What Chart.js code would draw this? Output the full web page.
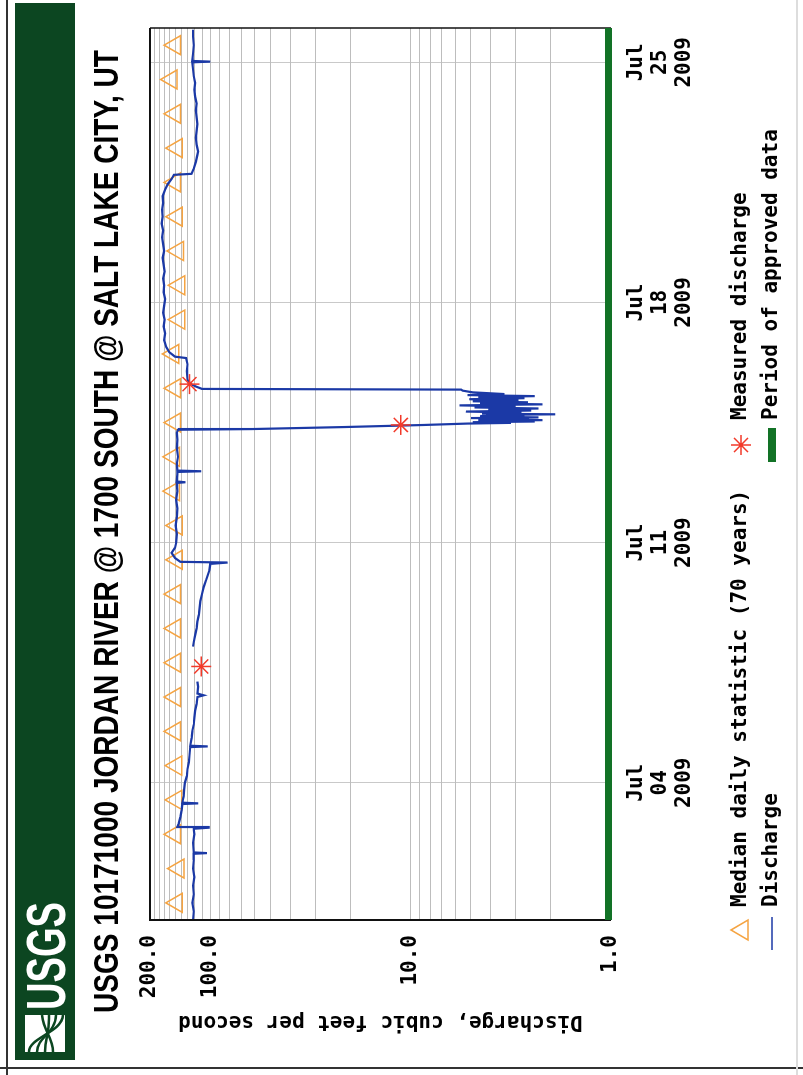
<!DOCTYPE html>
<html>
<head>
<meta charset="utf-8">
<script src="https://cdn.jsdelivr.net/npm/chart.js@4.4.0/dist/chart.umd.min.js"></script>
<style>
html, body { margin: 0; padding: 0; background: #fff; overflow: hidden; }
#wrap { position: absolute; left: -136px; top: 136px; width: 1075px; height: 803px; transform: rotate(-90deg); }
</style>
</head>
<body>
<div id="wrap"><canvas id="hydro" width="1075" height="803"></canvas></div>
<script>
// days counted from Jun 30 2009 00:00
const tickDays = [4, 11, 18, 25];
const tickMonth = ['Jul', 'Jul', 'Jul', 'Jul'];
const tickDate = ['04', '11', '18', '25'];
const tickYear = ['2009', '2009', '2009', '2009'];

const logGridValues = [1, 2, 3, 4, 5, 6, 7, 8, 9, 10, 20, 30, 40, 50, 60, 70, 80, 90,
    100, 110, 120, 130, 140, 150, 160, 170, 180, 190, 200];
const labelledValues = [1, 10, 100, 200];

const medianDays = [0.5, 1.5, 2.5, 3.5, 4.5, 5.5, 6.5, 7.5, 8.5, 9.5, 10.5, 11.5, 12.5,
    13.5, 14.5, 15.5, 16.5, 17.5, 18.5, 19.5, 20.5, 21.5, 22.5, 23.5, 24.5, 25.5];
const medianCfs = [147, 144, 150, 148, 148, 150, 150, 150, 150, 150, 147, 147, 152,
    152, 150, 150, 153, 143, 143, 145, 147, 150, 147, 150, 156, 150];

const measuredDays = [7.39, 14.43, 15.62];
const measuredCfs = [111, 11.2, 127];

const dischargeDays = [
    0.00, 0.25, 0.50, 0.75, 1.00, 1.25, 1.50, 1.75, 1.93, 1.95, 1.97, 2.25, 2.50, 2.66, 2.69, 2.71,
    2.80, 3.00, 3.20, 3.38, 3.40, 3.42, 3.60, 3.80, 4.00, 4.20, 4.40, 4.60, 4.80, 5.04, 5.06, 5.08,
    5.30, 5.50, 5.70, 5.90, 6.10, 6.30, 6.50, 6.55, 6.60, 6.80, 6.95, 7.00,
    7.97, 8.10, 8.30, 8.50, 8.70, 8.90, 9.10, 9.30, 9.50, 9.70, 9.90, 10.05, 10.20, 10.38, 10.42,
    10.44, 10.55, 10.70, 10.85, 11.00, 11.25, 11.50, 11.75, 12.00, 12.25, 12.50, 12.74, 12.76, 12.78,
    13.00, 13.06, 13.08, 13.10, 13.30, 13.50, 13.75, 14.00, 14.20, 14.29,
    14.31, 14.37, 14.43, 14.47, 14.49, 14.51, 14.53, 14.55, 14.57, 14.59, 14.61, 14.63, 14.65, 14.67,
    14.69, 14.72, 14.74, 14.76, 14.79, 14.82, 14.85, 14.88, 14.91, 14.94, 14.97, 15.00, 15.03, 15.06,
    15.09, 15.12, 15.15, 15.18, 15.21, 15.24, 15.27, 15.30, 15.33, 15.38, 15.43, 15.46,
    15.48, 15.55, 15.62, 15.75, 16.00, 16.20, 16.38, 16.42, 16.55, 16.70, 16.90, 17.10, 17.30, 17.50,
    17.70, 17.90, 18.10, 18.30, 18.50, 18.70, 18.90, 19.10, 19.30, 19.50, 19.70, 19.90, 20.10, 20.30,
    20.50, 20.70, 20.90, 21.10, 21.30, 21.45, 21.60, 21.72, 21.75, 21.90, 22.10, 22.30, 22.40, 22.60,
    22.80, 23.00, 23.20, 23.40, 23.60, 23.80, 24.00, 24.20, 24.40, 24.60, 24.80, 25.00, 25.02, 25.04,
    25.25, 25.50, 25.75, 25.95
];
const dischargeCfs = [
    122, 121, 123, 121, 122, 120, 122, 121, 121, 104, 121, 122, 120, 121, 102, 146,
    144, 141, 139, 138, 115, 138, 136, 135, 134, 131, 130, 128, 127, 126, 103, 126,
    124, 123, 121, 120, 119, 117, 116, 108, 116, 115, 116, null,
    122, 121, 119, 117, 116, 114, 113, 112, 110, 108, 105, 103, 101, 100, 82,
    141, 150, 156, 150, 148, 147, 149, 147, 146, 148, 146, 147, 133, 147,
    146, 146, 111, 146, 147, 145, 147, 146, 147, 145,
    62, 21, 8.5, 5.2, 3.2, 4.9, 2.4, 4.6, 2.2, 4.3, 2.6, 5.0, 2.3, 4.5,
    2.7, 4.2, 1.9, 4.4, 2.8, 5.3, 2.5, 4.1, 2.3, 4.8, 3.0, 5.7, 2.2, 4.5,
    2.6, 4.9, 2.9, 5.1, 2.7, 4.6, 2.4, 5.2, 3.4, 4.9, 5.5, 5.6,
    110, 118, 125, 130, 131, 130, 132, 150, 160, 166, 170, 168, 171, 169,
    172, 170, 168, 171, 170, 172, 169, 171, 173, 170, 172, 174, 172, 175,
    173, 174, 172, 173, 168, 163, 156, 152, 124, 121, 118, 116, 115, 117,
    118, 117, 116, 117, 118, 117, 119, 120, 119, 121, 122, 123, 100, 123,
    122, 121, 122, 122
];

const toPoints = (xs, ys) => xs.map((x, i) => ({ x: x, y: ys[i] }));

const MONO = "'DejaVu Sans Mono', 'Liberation Mono', monospace";
const ORANGE = '#f5a442';
const BLUE = '#1b39a6';
const RED = '#f23a2a';
const DARK_GREEN = '#0c4621';
const BAR_GREEN = '#127226';

const usgsFrame = {
    id: 'usgsFrame',
    beforeDraw(chart) {
        const ctx = chart.ctx;
        ctx.save();
        ctx.fillStyle = '#fff';
        ctx.fillRect(0, 0, chart.width, chart.height);

        // outer frame
        ctx.strokeStyle = '#333';
        ctx.lineWidth = 2;
        ctx.beginPath();
        ctx.moveTo(7, 0); ctx.lineTo(7, chart.height);
        ctx.moveTo(0, 7); ctx.lineTo(chart.width, 7);
        ctx.stroke();
        ctx.strokeStyle = '#ddd';
        ctx.beginPath();
        ctx.moveTo(0, 797); ctx.lineTo(chart.width, 797);
        ctx.stroke();

        // green banner
        ctx.fillStyle = DARK_GREEN;
        ctx.fillRect(15, 15, 1057, 60);
        // logo mark
        ctx.fillStyle = '#fff';
        ctx.fillRect(23, 25, 37, 40);
        ctx.strokeStyle = DARK_GREEN;
        ctx.lineWidth = 2.5;
        for (let i = 0; i < 4; i++) {
            ctx.beginPath();
            ctx.moveTo(23, 29 + i * 8);
            ctx.bezierCurveTo(38, 29 + i * 8, 42, 62 - i * 6, 60, 63 - i * 7);
            ctx.stroke();
        }
        ctx.fillStyle = '#fff';
        ctx.font = "bold 56px 'Liberation Sans', Arial, sans-serif";
        ctx.textBaseline = 'alphabetic';
        let w = ctx.measureText('USGS').width;
        ctx.save();
        ctx.translate(65, 65);
        ctx.scale(108 / w, 1);
        ctx.fillText('USGS', 0, 0);
        ctx.restore();

        // title
        const title = 'USGS 10171000 JORDAN RIVER @ 1700 SOUTH @ SALT LAKE CITY, UT';
        ctx.fillStyle = '#000';
        ctx.font = "bold 35px 'Liberation Sans', Arial, sans-serif";
        w = ctx.measureText(title).width;
        ctx.save();
        ctx.translate(62, 118);
        ctx.scale(963 / w, 1);
        ctx.fillText(title, 0, 0);
        ctx.restore();
        ctx.restore();
    },
    afterDraw(chart) {
        const ctx = chart.ctx;
        const { left, right, top, bottom } = chart.chartArea;
        ctx.save();
        ctx.strokeStyle = '#111';
        ctx.lineWidth = 2;
        ctx.beginPath();
        ctx.moveTo(left, bottom); ctx.lineTo(left, top); ctx.lineTo(right, top);
        ctx.stroke();
        ctx.lineWidth = 1.5;
        ctx.beginPath();
        ctx.moveTo(right, top); ctx.lineTo(right, bottom);
        ctx.stroke();
        ctx.fillStyle = BAR_GREEN;
        ctx.fillRect(left, bottom - 6, right - left, 7);

        // legend
        ctx.font = 'bold 21px ' + MONO;
        ctx.textBaseline = 'middle';
        ctx.fillStyle = '#000';
        const r1 = 741, r2 = 772;
        ctx.fillText('Median daily statistic (70 years)', 168, r1);
        ctx.fillText('Measured discharge', 655, r1);
        ctx.fillText('Discharge', 168, r2);
        ctx.fillText('Period of approved data', 655, r2);
        ctx.strokeStyle = ORANGE;
        ctx.lineWidth = 1.5;
        ctx.beginPath();
        ctx.moveTo(145, r1 - 10); ctx.lineTo(155, r1 + 7); ctx.lineTo(135, r1 + 7); ctx.closePath();
        ctx.stroke();
        ctx.strokeStyle = RED;
        ctx.beginPath();
        for (let k = 0; k < 4; k++) {
            const a = k * Math.PI / 4;
            ctx.moveTo(630 - 10 * Math.cos(a), r1 - 10 * Math.sin(a));
            ctx.lineTo(630 + 10 * Math.cos(a), r1 + 10 * Math.sin(a));
        }
        ctx.stroke();
        ctx.strokeStyle = BLUE;
        ctx.lineWidth = 1.5;
        ctx.beginPath();
        ctx.moveTo(125, r2); ctx.lineTo(158, r2);
        ctx.stroke();
        ctx.fillStyle = BAR_GREEN;
        ctx.fillRect(613, r2 - 4, 34, 8);
        ctx.restore();
    }
};

new Chart(document.getElementById('hydro'), {
    type: 'line',
    data: {
        datasets: [{
            label: 'Measured discharge',
            data: toPoints(measuredDays, measuredCfs),
            showLine: false,
            pointStyle: 'star',
            pointRadius: 10,
            pointBorderWidth: 1.5,
            borderColor: RED,
            backgroundColor: RED
        }, {
            label: 'Discharge',
            data: toPoints(dischargeDays, dischargeCfs),
            borderColor: BLUE,
            borderWidth: 2.2,
            pointRadius: 0,
            spanGaps: false,
            tension: 0
        }, {
            label: 'Median daily statistic (70 years)',
            data: toPoints(medianDays, medianCfs),
            showLine: false,
            pointStyle: 'triangle',
            pointRadius: 11,
            pointBorderWidth: 1.5,
            borderColor: ORANGE,
            backgroundColor: 'rgba(0,0,0,0)'
        }]
    },
    options: {
        responsive: false,
        animation: false,
        devicePixelRatio: 1,
        layout: { padding: { left: 0, top: 150, right: 28, bottom: 0 } },
        plugins: {
            legend: { display: false },
            title: { display: false },
            tooltip: { enabled: false }
        },
        scales: {
            x: {
                type: 'linear',
                min: 0,
                max: 26,
                afterFit: (scale) => { scale.height = 192; },
                afterBuildTicks: (scale) => { scale.ticks = tickDays.map(v => ({ value: v })); },
                grid: { color: '#c9c9c9', drawTicks: false },
                border: { display: false },
                ticks: {
                    padding: 13,
                    maxRotation: 0,
                    minRotation: 0,
                    autoSkip: false,
                    color: '#000',
                    font: { family: MONO, size: 21, weight: 'bold', lineHeight: 1.15 },
                    callback: (value) => {
                        const i = tickDays.indexOf(value);
                        return i < 0 ? '' : [tickMonth[i], tickDate[i], tickYear[i]];
                    }
                }
            },
            y: {
                type: 'logarithmic',
                min: 1,
                max: 200,
                afterFit: (scale) => { scale.width = 155; },
                afterBuildTicks: (scale) => { scale.ticks = logGridValues.map(v => ({ value: v })); },
                grid: { color: '#bdbdbd', drawTicks: false },
                border: { display: false },
                ticks: {
                    padding: 15,
                    autoSkip: false,
                    color: '#000',
                    font: { family: MONO, size: 21, weight: 'bold' },
                    callback: (value) => labelledValues.includes(value) ? value.toFixed(1) : ''
                },
                title: {
                    display: true,
                    text: 'Discharge, cubic feet per second',
                    color: '#000',
                    padding: { top: 41, bottom: 0 },
                    font: { family: MONO, size: 21, weight: 'bold' }
                }
            }
        }
    },
    plugins: [usgsFrame]
});
</script>
</body>
</html>
